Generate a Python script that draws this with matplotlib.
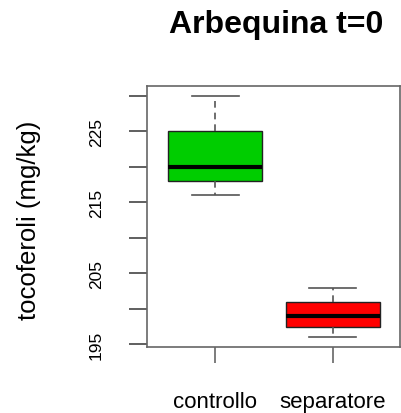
import matplotlib
matplotlib.use("Agg")
import matplotlib.pyplot as plt

# values (mg/kg)
groups = ["controllo", "separatore"]
whis_lo = [216, 196]
q1 = [218, 197.5]
median = [220, 199]
q3 = [225, 201]
whis_hi = [230, 203]
colors = ["#00CD00", "#FF0000"]

yticks = [195, 200, 205, 210, 215, 220, 225, 230]
ylabels = ["195", "", "205", "", "215", "", "225", ""]

plt.rcParams["font.family"] = ["Liberation Sans", "DejaVu Sans"]

fig = plt.figure(figsize=(4.02, 4.14), dpi=100)
ax = fig.add_axes([147 / 402, 1 - 348 / 414, 253 / 402, 261 / 414])

stats = []
for i, g in enumerate(groups):
    stats.append(dict(label=g, whislo=whis_lo[i], q1=q1[i], med=median[i],
                      q3=q3[i], whishi=whis_hi[i], fliers=[]))

bp = ax.bxp(stats, positions=[1, 2], widths=0.8, patch_artist=True,
            showfliers=False,
            boxprops=dict(edgecolor="#222222", linewidth=1),
            medianprops=dict(color="black", linewidth=3, solid_capstyle="butt"),
            whiskerprops=dict(color="#555555", linestyle=(0, (4, 3)), linewidth=1.2),
            capprops=dict(color="#555555", linewidth=1.2),
            capwidths=0.4)
for patch, c in zip(bp["boxes"], colors):
    patch.set_facecolor(c)

ax.set_xlim(0.42, 2.57)
ax.set_ylim(194.64, 231.36)

for s in ax.spines.values():
    s.set_color("#666666")
    s.set_linewidth(1.2)

ax.set_yticks(yticks)
ax.set_yticklabels(ylabels, rotation=90, va="center", fontsize=12.5)
ax.tick_params(axis="y", length=13, width=1.2, color="#444444", pad=18)
ax.tick_params(axis="x", length=11.5, width=1.2, color="#666666", pad=20, labelsize=16)
ax.set_xticks([1, 2])
ax.set_xticklabels(groups)

ax.set_ylabel("tocoferoli (mg/kg)", fontsize=18.5)
ax.yaxis.set_label_coords(-(147 - 41) / 253, 0.49)

fig.text(276 / 402, 1 - 25 / 414, "Arbequina t=0", ha="center", va="center",
         fontsize=23, fontweight="bold")

fig.savefig("out.png", dpi=100)
